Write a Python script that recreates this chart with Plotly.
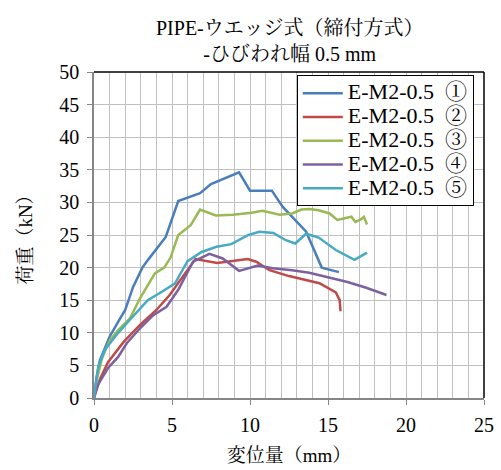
import plotly.graph_objects as go

# Load-displacement curves, specimens E-M2-0.5 ① to ⑤
names = ["E-M2-0.5\u2002①", "E-M2-0.5\u2002②", "E-M2-0.5\u2002③", "E-M2-0.5\u2002④", "E-M2-0.5\u2002⑤"]
colors = ["#4a7ebb", "#be4b48", "#98b954", "#7d60a0", "#46aac5"]

disp_1 = [0, 0.15, 0.38, 1.0, 1.5, 2.0, 2.5, 3.1, 3.5, 4.6, 5.4, 6.8, 7.5, 9.3, 10.0, 11.4, 12.1, 13.0, 13.6, 14.6, 15.7]
load_1 = [0, 3.0, 5.8, 9.4, 11.5, 13.5, 17.0, 20.0, 21.3, 24.7, 30.2, 31.4, 32.8, 34.6, 31.8, 31.8, 29.3, 27.0, 25.5, 20.0, 19.3]

disp_2 = [0, 0.4, 0.9, 1.9, 2.95, 4.0, 4.85, 5.5, 6.5, 7.9, 9.1, 9.85, 10.4, 11.25, 12.5, 13.5, 14.45, 15.5, 15.75, 15.8]
load_2 = [0, 3.0, 5.5, 8.6, 11.2, 13.5, 15.8, 18.0, 21.3, 20.7, 21.0, 21.3, 20.9, 19.6, 18.7, 18.1, 17.6, 16.2, 15.0, 13.3]

disp_3 = [0, 0.2, 0.5, 1.0, 1.55, 2.3, 2.95, 3.9, 4.5, 4.9, 5.4, 6.2, 6.8, 7.8, 8.9, 10.1, 10.8, 11.9, 12.7, 13.3, 13.8, 14.4, 15.1, 15.6, 16.5, 16.75, 17.1, 17.3, 17.5]
load_3 = [0, 3.0, 6.0, 8.8, 10.4, 12.2, 15.3, 19.1, 20.0, 21.5, 25.0, 26.5, 28.9, 28.0, 28.1, 28.4, 28.7, 28.1, 28.3, 28.9, 29.0, 28.8, 28.3, 27.3, 27.8, 27.0, 27.4, 27.8, 26.6]

disp_4 = [0, 0.17, 0.9, 1.55, 2.1, 2.95, 3.8, 4.65, 5.4, 6.35, 7.4, 8.25, 9.3, 10.5, 11.45, 12.7, 13.8, 15.1, 16.25, 17.45, 18.75]
load_4 = [0, 1.7, 4.6, 6.3, 8.4, 10.7, 12.7, 14.0, 16.6, 20.9, 22.1, 21.4, 19.5, 20.3, 19.9, 19.6, 19.2, 18.4, 17.8, 16.9, 15.8]

disp_5 = [0, 0.27, 0.7, 1.45, 2.3, 3.45, 4.35, 5.2, 5.5, 6.0, 6.9, 7.85, 8.8, 9.9, 10.6, 11.5, 12.3, 12.9, 13.6, 14.4, 15.5, 16.7, 17.5]
load_5 = [0, 4.8, 7.4, 9.7, 12.0, 15.0, 16.3, 17.6, 18.9, 21.0, 22.4, 23.2, 23.6, 25.0, 25.5, 25.3, 24.2, 23.7, 25.2, 24.6, 22.7, 21.2, 22.3]

series = [(disp_1, load_1), (disp_2, load_2), (disp_3, load_3), (disp_4, load_4), (disp_5, load_5)]

FONT = "Liberation Serif, Times New Roman, Noto Serif CJK JP, Noto Sans CJK JP, serif"
GRID = "#c0c0c0"
AXIS = "#868686"

fig = go.Figure()
for (xs, ys), name, color in zip(series, names, colors):
    fig.add_trace(go.Scatter(
        x=xs, y=ys, mode="lines",
        # legend rows stay compact while the label text is drawn larger
        name=f"<span style='font-size:22px'>{name}</span>",
        line=dict(color=color, width=2.5)))

fig.update_layout(
    width=501, height=470,
    margin=dict(l=94, r=17, t=72, b=72),
    paper_bgcolor="white", plot_bgcolor="white",
    font=dict(family=FONT, size=20, color="black"),
    showlegend=True,
    legend=dict(x=0.52, y=0.99, xanchor="left", yanchor="top",
                bgcolor="white", bordercolor="black", borderwidth=1,
                font=dict(family=FONT, size=16, color="black"),
                tracegroupgap=0, itemwidth=40),
)

# two-line chart title above the plot area
fig.add_annotation(text="PIPE-ウエッジ式（締付方式）<br>-ひびわれ幅 0.5 mm",
                   xref="paper", yref="paper", x=0.5, y=1, xanchor="center",
                   yanchor="bottom", yshift=5, showarrow=False,
                   font=dict(family=FONT, size=20, color="black"))

fig.update_xaxes(
    range=[0, 25], tickmode="linear", tick0=0, dtick=5,
    showgrid=True, gridcolor=GRID, gridwidth=1,
    minor=dict(tickmode="linear", tick0=0, dtick=1, showgrid=True, gridcolor=GRID, gridwidth=1),
    showline=True, linecolor=AXIS, linewidth=1.5,
    ticks="outside", ticklen=5, tickcolor=AXIS, ticklabelstandoff=3,
    zeroline=False, automargin=False,
    title=dict(text="変位量（mm）", standoff=14, font=dict(family=FONT, size=19)),
)
fig.update_yaxes(
    range=[0, 50], tickmode="linear", tick0=0, dtick=5,
    showgrid=True, gridcolor=GRID, gridwidth=1,
    showline=True, linecolor=AXIS, linewidth=1.5,
    ticks="outside", ticklen=5, tickcolor=AXIS, ticklabelstandoff=4,
    zeroline=False, automargin=False,
    title=dict(text="荷重（kN）", standoff=22, font=dict(family=FONT, size=19)),
)

# dark frame along the top and right edges of the plot area
fig.add_shape(type="line", xref="paper", yref="paper", x0=0, x1=1, y0=1, y1=1,
              line=dict(color="black", width=1.5))
fig.add_shape(type="line", xref="paper", yref="paper", x0=1, x1=1, y0=0, y1=1,
              line=dict(color="black", width=1.5))

fig.write_html("out.html")
